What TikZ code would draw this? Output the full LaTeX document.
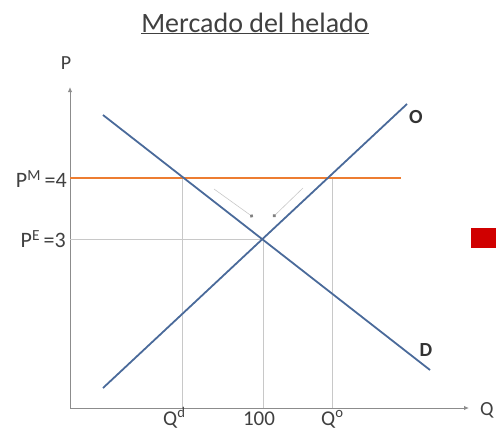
\documentclass[tikz,border=0pt]{standalone}
\usepackage{fontspec}
\setmainfont{Carlito}
\usetikzlibrary{arrows.meta}
\definecolor{curve}{HTML}{4A6A9A}
\definecolor{orangeline}{HTML}{ED7D31}
\definecolor{axisgray}{HTML}{8C8C8C}
\definecolor{guidegray}{HTML}{C8C8C8}
\definecolor{txt}{HTML}{404040}
\definecolor{redbox}{HTML}{D00000}
\begin{document}
\begin{tikzpicture}[x=1pt,y=-1pt,
  lbl/.style={text=txt,font=\fontsize{22}{26}\selectfont,inner sep=0pt},
  axis/.style={draw=axisgray,line width=1pt,-{Latex[length=5pt,width=4.5pt]}},
  guide/.style={draw=guidegray,line width=0.8pt},
  curveline/.style={draw=curve,line width=1.8pt},
  curvelbl/.style={text=black!80,font=\bfseries\fontsize{20}{24}\selectfont,inner sep=0pt}]
\useasboundingbox (0,0) rectangle (496,431);
% title
\node[text=txt,font=\fontsize{28}{32}\selectfont,inner sep=0pt,anchor=base] (title) at (255,32) {\underline{Mercado del helado}};
% axes
\coordinate (O0) at (70,408);
\coordinate (ytop) at (70,87);
\coordinate (xend) at (469,408);
\draw[axis] (O0) -- (ytop);
\draw[axis] (O0) -- (xend);
\node[lbl,font=\fontsize{20}{24}\selectfont] (P) at (66,63) {P};
\node[lbl,font=\fontsize{20}{24}\selectfont,anchor=west] (Q) at (480,410) {Q};
% guide lines
\coordinate (E) at (263,239);
\coordinate (A) at (182,178);
\coordinate (B) at (332,178);
\coordinate (Ebot) at (263,408);
\coordinate (Abot) at (182,408);
\coordinate (Bbot) at (332,408);
\coordinate (Eleft) at (70,239);
\draw[guide] (Eleft) -- (E);
\draw[guide] (E) -- (Ebot);
\draw[guide] (A) -- (Abot);
\draw[guide] (B) -- (Bbot);
% faint arrows
\coordinate (fa1) at (214,189);
\coordinate (fa2) at (253,217);
\coordinate (fb1) at (303,188);
\coordinate (fb2) at (273,217);
\draw[guide,line width=0.6pt,-{Circle[length=3.5pt,fill=gray,color=gray]}] (fa1) -- (fa2);
\draw[guide,line width=0.6pt,-{Circle[length=3.5pt,fill=gray,color=gray]}] (fb1) -- (fb2);
% orange price line
\coordinate (Ml) at (70,178);
\coordinate (Mr) at (401,178);
\draw[draw=orangeline,line width=1.8pt] (Ml) -- (Mr);
% curves
\coordinate (D1) at (103,115);
\coordinate (D2) at (430,370);
\coordinate (S1) at (103,388);
\coordinate (S2) at (407,104);
\draw[curveline] (D1) -- (D2);
\draw[curveline] (S1) -- (S2);
\node[curvelbl] (Olbl) at (416,117) {O};
\node[curvelbl] (Dlbl) at (426,350) {D};
% price labels
\node[lbl,anchor=east] (PM) at (67,179) {P\textsuperscript{M}\,=4};
\node[lbl,anchor=east] (PE) at (66,239) {P\textsuperscript{E}\,=3};
% quantity labels
\node[lbl,font=\fontsize{21}{24}\selectfont,anchor=base west] (Qd) at (163,425) {Q\textsuperscript{d}};
\node[lbl,font=\fontsize{21}{24}\selectfont,anchor=base] (Q100) at (259,425) {100};
\node[lbl,font=\fontsize{21}{24}\selectfont,anchor=base west] (Qo) at (321,425) {Q\textsuperscript{o}};
% red box
\node[fill=redbox,minimum width=26pt,minimum height=20pt,inner sep=0pt,anchor=west] (red) at (471,238) {};
\end{tikzpicture}
\end{document}
